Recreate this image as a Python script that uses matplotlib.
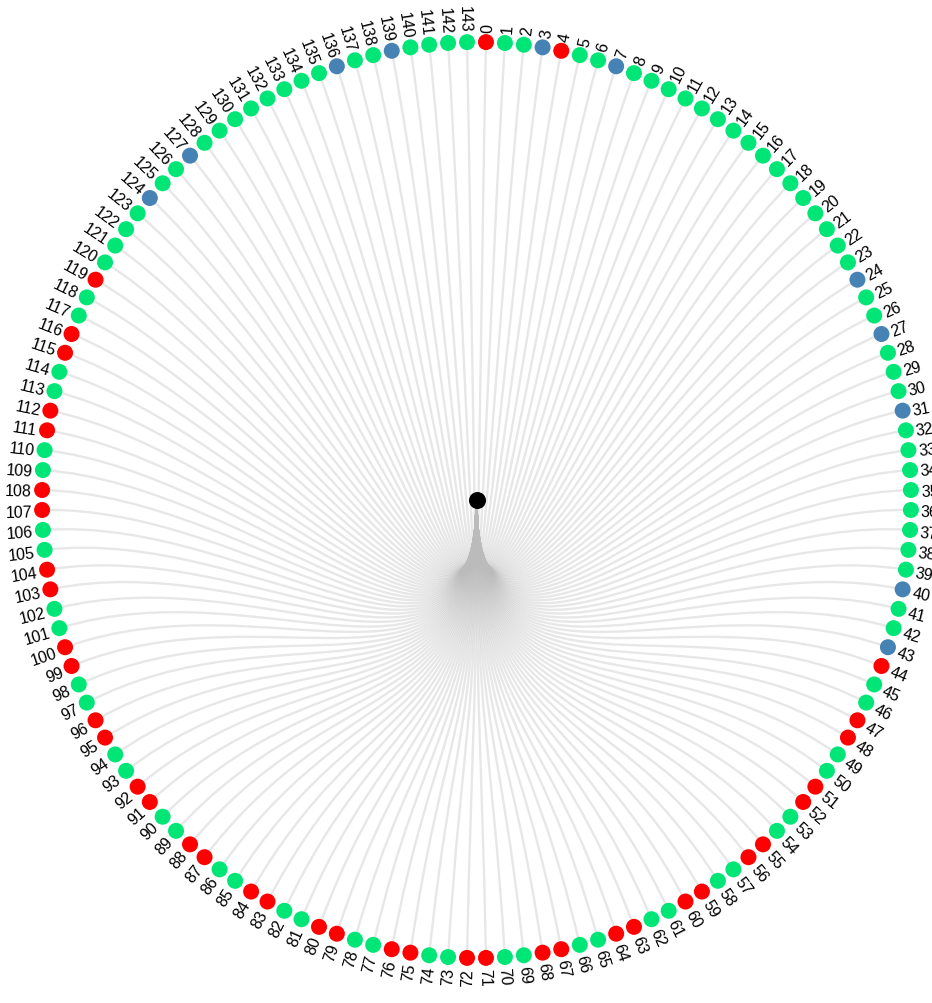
import numpy as np
import matplotlib
matplotlib.use("Agg")
import matplotlib.pyplot as plt
from matplotlib.path import Path
from matplotlib.patches import PathPatch

# ---- data ----
n_leaves = 144
leaf_labels = [str(i) for i in range(n_leaves)]
red_nodes = [0, 4, 44, 47, 48, 51, 52, 55, 56, 59, 60, 63, 64, 67, 68, 71, 72,
             75, 76, 79, 80, 83, 84, 87, 88, 91, 92, 95, 96, 99, 100, 103, 104,
             107, 108, 111, 112, 115, 116, 119]
blue_nodes = [3, 7, 24, 27, 31, 40, 43, 124, 127, 136, 139]
group_colors = {"red": "#ff0000", "blue": "#4682b4", "green": "#00e676"}

groups = []
for i in range(n_leaves):
    if i in red_nodes:
        groups.append("red")
    elif i in blue_nodes:
        groups.append("blue")
    else:
        groups.append("green")

# ---- figure ----
W, H = 932, 1004
dpi = 100
fig = plt.figure(figsize=(W / dpi, H / dpi), dpi=dpi)
ax = fig.add_axes([0, 0, 1, 1])
cx, cy = 476.5, 501.0       # centre in pixels (from top-left)
rx, ry = 434.5, 458.0       # radii in pixels
ax.set_xlim(-cx / rx, (W - cx) / rx)
ax.set_ylim(-(H - cy) / ry, cy / ry)
ax.set_aspect("auto")
ax.axis("off")

# leaf angles (d3.cluster: clockwise from top)
ang = (np.arange(n_leaves) + 0.5) / n_leaves * 2 * np.pi
lx = np.sin(ang)
ly = np.cos(ang)
root_ang = np.pi  # mean of leaves

# links (radial bump curves)
for i in range(n_leaves):
    p0 = (0.0, 0.0)
    p1 = (0.5 * np.sin(root_ang), 0.5 * np.cos(root_ang))
    p2 = (0.5 * lx[i], 0.5 * ly[i])
    p3 = (lx[i], ly[i])
    path = Path([p0, p1, p2, p3], [Path.MOVETO, Path.CURVE4, Path.CURVE4, Path.CURVE4])
    ax.add_patch(PathPatch(path, facecolor="none", edgecolor="#bbbbbb",
                           alpha=0.35, linewidth=1.7, zorder=1))

# root
ax.scatter([0], [0], s=(17 * 0.72) ** 2, color="black", zorder=3, linewidths=0)

# leaves
cols = [group_colors[g] for g in groups]
ax.scatter(lx, ly, s=(16 * 0.72) ** 2, c=cols, zorder=3, linewidths=0)

# labels
off_pt = 10 * 0.72
for i in range(n_leaves):
    a_deg = np.degrees(ang[i])
    dx = off_pt * np.sin(ang[i])
    dy = off_pt * np.cos(ang[i])
    if a_deg < 180:
        rot = 90 - a_deg
        ha = "left"
    else:
        rot = 270 - a_deg
        ha = "right"
    ax.annotate(leaf_labels[i], xy=(lx[i], ly[i]), xytext=(dx, dy),
                textcoords="offset points", rotation=rot, rotation_mode="anchor",
                ha=ha, va="center_baseline", fontsize=11.5,
                family=["Liberation Sans", "DejaVu Sans"], color="black", zorder=4)

fig.savefig("out.png", dpi=dpi)
